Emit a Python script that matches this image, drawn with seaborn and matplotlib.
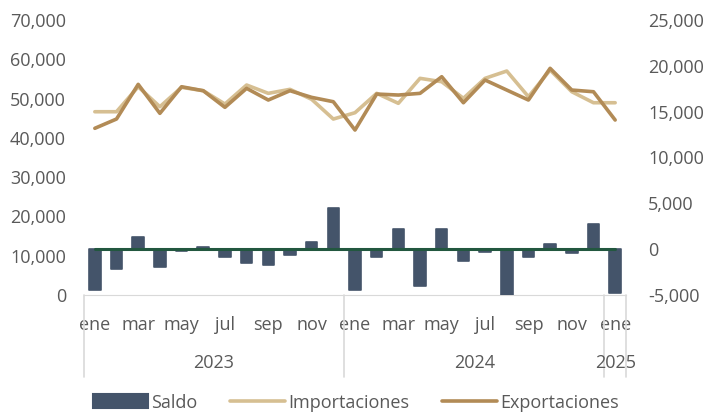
import pandas as pd
import matplotlib
matplotlib.use("Agg")
import matplotlib.pyplot as plt
import matplotlib.transforms as mtransforms
from matplotlib.patches import Patch
from matplotlib.lines import Line2D
from matplotlib.ticker import FuncFormatter
import seaborn as sns

# datos mensuales ene-2023 .. ene-2025
meses = ["ene", "feb", "mar", "abr", "may", "jun", "jul", "ago", "sep", "oct", "nov", "dic"] * 2 + ["ene"]
anios = ["2023"] * 12 + ["2024"] * 12 + ["2025"]

importaciones = [46650, 46650, 53010, 47920, 52860, 52000, 48610, 53450, 51330, 52350, 49810, 44790,
                 46400, 51330, 48790, 55150, 54290, 50060, 55150, 57010, 50470, 57260, 51740, 48940,
                 48940]
exportaciones = [42430, 44800, 53620, 46240, 53010, 52000, 47770, 52600, 49630, 52000, 50310, 49200,
                 41990, 51150, 50900, 51330, 55560, 48940, 54720, 52170, 49630, 57700, 52170, 51740,
                 44540]
saldo = [-4400, -2180, 1280, -1930, -250, 250, -900, -1560, -1780, -650, 730, 4440,
         -4470, -870, 2150, -4040, 2150, -1310, -300, -4950, -900, 510, -400, 2700,
         -4800]

df = pd.DataFrame({
    "idx": range(len(meses)),
    "Mes": meses,
    "Anio": anios,
    "Importaciones": importaciones,
    "Exportaciones": exportaciones,
    "Saldo": saldo,
})

c_saldo = "#44546A"
c_imp = "#D6BF92"
c_exp = "#B28B56"
c_cero = "#22573F"
c_txt = "#595959"
c_sep = "#D9D9D9"
fs = 13

sns.set_style("white")
plt.rcParams["font.family"] = ["Open Sans", "DejaVu Sans"]
plt.rcParams["font.size"] = fs

fig, ax1 = plt.subplots(figsize=(7.04, 4.13), dpi=100)
fig.subplots_adjust(left=84 / 704, right=626 / 704, top=1 - 20 / 413, bottom=1 - 295 / 413)
ax2 = ax1.twinx()

# barras de saldo (eje derecho)
sns.barplot(data=df, x="idx", y="Saldo", color=c_saldo, width=0.53, ax=ax2,
            edgecolor=c_saldo, linewidth=1.2, saturation=1)
for p in ax2.patches:
    p.set_joinstyle("round")
ax2.plot(df["idx"], [0] * len(df), color=c_cero, lw=2.2, zorder=5)

# lineas (eje izquierdo)
sns.lineplot(data=df, x="idx", y="Importaciones", color=c_imp, lw=2.6, ax=ax1)
sns.lineplot(data=df, x="idx", y="Exportaciones", color=c_exp, lw=2.6, ax=ax1)

ax1.set_ylim(0, 70000)
ax1.set_yticks(range(0, 70001, 10000))
ax2.set_ylim(-5000, 25000)
ax2.set_yticks(range(-5000, 25001, 5000))
fmt = FuncFormatter(lambda v, _: f"{int(v):,}")
ax1.yaxis.set_major_formatter(fmt)
ax2.yaxis.set_major_formatter(fmt)

ax1.set_xlim(-0.5, len(df) - 0.5)
ax1.set_xticks(df["idx"][::2])
ax1.set_xticklabels(df["Mes"][::2])

for a in (ax1, ax2):
    a.set_xlabel("")
    a.set_ylabel("")
    for s in a.spines.values():
        s.set_visible(False)
    a.tick_params(length=0, colors=c_txt, labelsize=fs)
ax1.tick_params(axis="y", pad=13)
ax2.tick_params(axis="y", pad=16)
ax1.tick_params(axis="x", pad=15)
ax1.spines["bottom"].set_visible(True)
ax1.spines["bottom"].set_color(c_sep)

# separadores y etiquetas de anio
tr = mtransforms.blended_transform_factory(ax1.transData, ax1.transAxes)
for xs in [-0.5, 11.5, 23.5, 24.5]:
    ax1.plot([xs, xs], [0, -0.298], transform=tr, color=c_sep, lw=1.2, clip_on=False)
for anio, xc in [("2023", 5.5), ("2024", 17.5), ("2025", 24)]:
    ax1.text(xc, -0.247, anio, transform=tr, ha="center", va="center", color=c_txt, fontsize=fs)

handles = [
    Patch(facecolor=c_saldo, edgecolor=c_saldo, linewidth=1.5, joinstyle="round", label="Saldo"),
    Line2D([], [], color=c_imp, lw=2.6, label="Importaciones"),
    Line2D([], [], color=c_exp, lw=2.6, label="Exportaciones"),
]
leg = fig.legend(handles=handles, loc="center", bbox_to_anchor=(356 / 704, 1 - 402.5 / 413), ncol=3,
                 frameon=False, handlelength=3.05, handleheight=0.8, handletextpad=0.17,
                 columnspacing=1.8, fontsize=fs)
for t in leg.get_texts():
    t.set_color(c_txt)

fig.savefig("out.png", dpi=100)
